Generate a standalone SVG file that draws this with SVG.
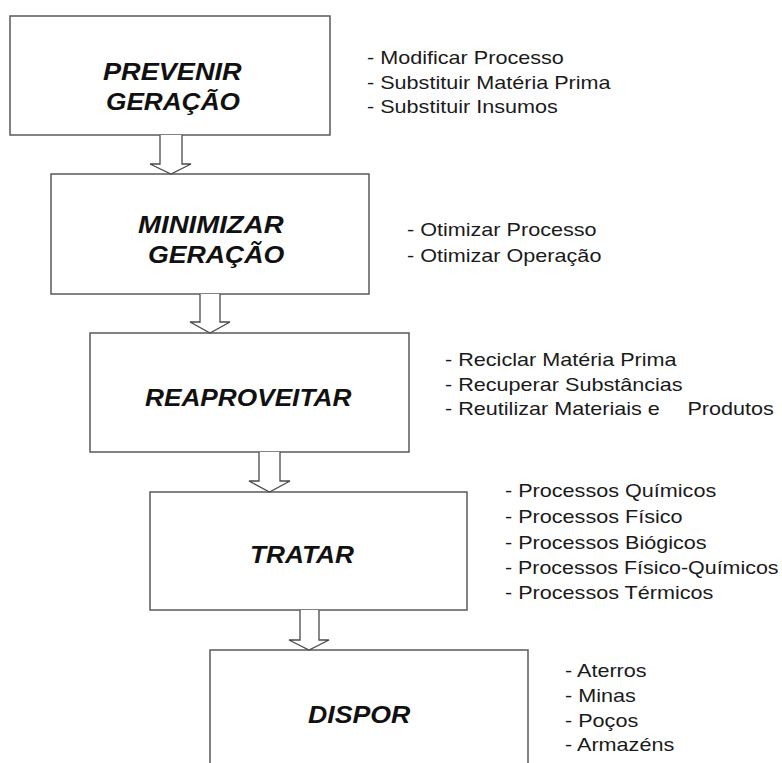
<svg xmlns="http://www.w3.org/2000/svg" width="782" height="763" viewBox="0 0 782 763">
<style>
.box{fill:#fff;stroke:#5a5a5a;stroke-width:1.5}
.arr{fill:#fff;stroke:#4a4a4a;stroke-width:1.3;stroke-linejoin:miter}
.t{font-family:"Liberation Sans",Arial,sans-serif;font-size:23px;font-weight:bold;font-style:italic;fill:#111}
.l{font-family:"Liberation Sans",Arial,sans-serif;font-size:18px;fill:#1a1a1a;white-space:pre}
</style>
<rect width="782" height="763" fill="#fff"/>
<g id="node-prevenir">
<rect class="box" x="10" y="16" width="320" height="119"/>
<text class="t" transform="translate(103,80) scale(1.18,1)">PREVENIR</text>
<text class="t" transform="translate(106,110) scale(1.14,1)">GERAÇÃO</text>
<text class="l" transform="translate(367,64) scale(1.2,1)">- Modificar Processo</text>
<text class="l" transform="translate(367,88.5) scale(1.2,1)">- Substituir Matéria Prima</text>
<text class="l" transform="translate(367,113) scale(1.2,1)">- Substituir Insumos</text>
</g>
<g id="node-minimizar">
<rect class="box" x="51" y="174" width="318" height="120"/>
<text class="t" transform="translate(138,233) scale(1.2,1)">MINIMIZAR</text>
<text class="t" transform="translate(148,263) scale(1.16,1)">GERAÇÃO</text>
<text class="l" transform="translate(407,236) scale(1.2,1)">- Otimizar Processo</text>
<text class="l" transform="translate(407,261.5) scale(1.2,1)">- Otimizar Operação</text>
</g>
<g id="node-reaproveitar">
<rect class="box" x="90" y="333" width="319" height="119"/>
<text class="t" transform="translate(145,406) scale(1.14,1)">REAPROVEITAR</text>
<text class="l" transform="translate(445,366) scale(1.2,1)">- Reciclar Matéria Prima</text>
<text class="l" transform="translate(445,390.5) scale(1.2,1)">- Recuperar Substâncias</text>
<text class="l" transform="translate(445,415) scale(1.2,1)">- Reutilizar Materiais e   <tspan dx="8">Produtos</tspan></text>
</g>
<g id="node-tratar">
<rect class="box" x="150" y="492" width="317" height="118"/>
<text class="t" transform="translate(250,563) scale(1.14,1)">TRATAR</text>
<text class="l" transform="translate(505,497) scale(1.2,1)">- Processos Químicos</text>
<text class="l" transform="translate(505,523) scale(1.2,1)">- Processos Físico</text>
<text class="l" transform="translate(505,548.5) scale(1.2,1)">- Processos Biógicos</text>
<text class="l" transform="translate(505,573.5) scale(1.19,1)">- Processos Físico-Químicos</text>
<text class="l" transform="translate(505,599) scale(1.2,1)">- Processos Térmicos</text>
</g>
<g id="node-dispor">
<rect class="box" x="210" y="650" width="318" height="130"/>
<text class="t" transform="translate(308,723) scale(1.16,1)">DISPOR</text>
<text class="l" transform="translate(565,677) scale(1.2,1)">- Aterros</text>
<text class="l" transform="translate(565,702) scale(1.2,1)">- Minas</text>
<text class="l" transform="translate(565,727) scale(1.2,1)">- Poços</text>
<text class="l" transform="translate(565,751) scale(1.2,1)">- Armazéns</text>
</g>
<g id="connectors">
<path class="arr" d="M160,135 L160,164 L150,164 L171,174 L191,164 L182,164 L182,135"/>
<path class="arr" d="M200,294 L200,322 L190,322 L210,333 L230,322 L220,322 L220,294"/>
<path class="arr" d="M259,452 L259,481 L249,481 L269.5,492 L290,481 L280,481 L280,452"/>
<path class="arr" d="M300,610 L300,640 L289,640 L309,650 L329,640 L319,640 L319,610"/>
</g>
</svg>
